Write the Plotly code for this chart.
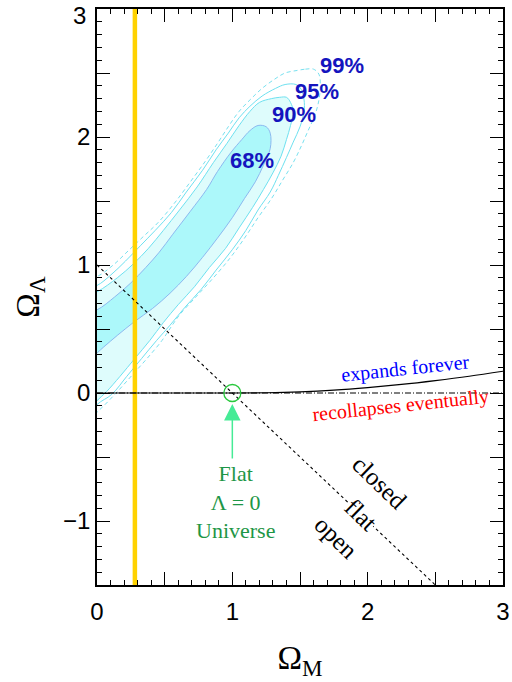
import plotly.graph_objects as go

# Confidence-region outlines in the (Omega_M, Omega_Lambda) plane.
c68_om = [1.19, 1.25, 1.28, 1.28, 1.23, 1.17, 1.09, 1.00, 0.89, 0.78, 0.66, 0.54, 0.41, 0.28,
          0.15, 0.05, -0.05, -0.16, -0.24, -0.16, 0.00, 0.13, 0.25, 0.36, 0.46, 0.56, 0.69,
          0.81, 0.89, 0.99, 1.07, 1.13]
c68_ol = [2.09, 2.08, 2.03, 1.91, 1.78, 1.65, 1.52, 1.37, 1.21, 1.06, 0.91, 0.78, 0.66, 0.56,
          0.45, 0.36, 0.27, 0.22, 0.30, 0.60, 0.65, 0.75, 0.86, 0.98, 1.10, 1.24, 1.42,
          1.59, 1.73, 1.88, 1.98, 2.05]

c90_om = [1.29, 1.35, 1.40, 1.43, 1.45, 1.43, 1.40, 1.36, 1.30, 1.23, 1.15, 1.05, 0.95, 0.83,
          0.72, 0.60, 0.49, 0.39, 0.28, 0.17, 0.07, 0.00, -0.09, -0.20, -0.26, -0.20, 0.00,
          0.15, 0.27, 0.38, 0.49, 0.61, 0.74, 0.86, 0.96, 1.05, 1.13, 1.20]
c90_ol = [2.30, 2.31, 2.31, 2.27, 2.20, 2.09, 1.98, 1.85, 1.72, 1.59, 1.45, 1.29, 1.13, 0.98,
          0.83, 0.69, 0.55, 0.41, 0.27, 0.13, 0.01, -0.06, -0.16, -0.18, 0.10, 0.70, 0.79,
          0.90, 1.01, 1.13, 1.27, 1.43, 1.61, 1.80, 1.95, 2.09, 2.20, 2.27]

c95_om = [1.32, 1.39, 1.47, 1.51, 1.53, 1.53, 1.50, 1.45, 1.40, 1.34, 1.28, 1.19, 1.10, 1.00,
          0.88, 0.77, 0.65, 0.54, 0.44, 0.33, 0.22, 0.11, 0.00, -0.09, -0.24, -0.31, -0.26,
          -0.13, 0.00, 0.10, 0.21, 0.32, 0.43, 0.55, 0.66, 0.78, 0.88, 0.97, 1.05, 1.13, 1.22]
c95_ol = [2.38, 2.41, 2.41, 2.37, 2.29, 2.20, 2.08, 1.96, 1.84, 1.70, 1.57, 1.43, 1.27, 1.12,
          0.96, 0.81, 0.67, 0.53, 0.41, 0.27, 0.13, -0.01, -0.09, -0.21, -0.21, 0.10, 0.70,
          0.80, 0.84, 0.92, 1.03, 1.15, 1.27, 1.41, 1.57, 1.74, 1.90, 2.03, 2.15, 2.24, 2.32]

c99_om = [1.48, 1.54, 1.60, 1.64, 1.65, 1.64, 1.61, 1.56, 1.51, 1.45, 1.37, 1.29, 1.19, 1.09,
          0.98, 0.86, 0.73, 0.61, 0.55, 0.48, 0.37, 0.26, 0.15, 0.05, 0.00, -0.09, -0.24,
          -0.31, -0.27, -0.13, 0.00, 0.12, 0.23, 0.34, 0.45, 0.57, 0.69, 0.80, 0.89, 0.97,
          1.05, 1.14, 1.22, 1.31, 1.39]
c99_ol = [2.52, 2.53, 2.53, 2.49, 2.40, 2.29, 2.17, 2.05, 1.93, 1.80, 1.66, 1.52, 1.37, 1.21,
          1.05, 0.90, 0.75, 0.61, 0.52, 0.41, 0.27, 0.14, 0.01, -0.10, -0.15, -0.25, -0.25,
          0.10, 0.78, 0.88, 0.91, 1.00, 1.11, 1.22, 1.33, 1.48, 1.65, 1.81, 1.95, 2.08,
          2.20, 2.30, 2.38, 2.45, 2.50]

# Boundary between eternal expansion and eventual recollapse.
expand_om = [0.0, 1.0, 1.25, 1.5, 1.75, 2.0, 2.25, 2.5, 2.75, 3.0]
expand_ol = [0.0, 0.0, 0.002, 0.009, 0.022, 0.042, 0.067, 0.097, 0.131, 0.170]

# Flat universe: Omega_M + Omega_Lambda = 1
flat_om = [0.0, 2.5]
flat_ol = [1.0, -1.5]

# Omega_M constraint (vertical marker)
om_marker = 0.28

# Flat, Lambda = 0 universe
flat_l0 = (1.0, 0.0)

pct_labels = ["99%", "95%", "90%", "68%"]
pct_om = [1.814, 1.622, 1.453, 1.143]
pct_ol = [2.555, 2.359, 2.172, 1.820]

x_ticks = [0, 1, 2, 3]
x_text = ["0", "1", "2", "3"]
x_half_ticks = [0.5, 1.5, 2.5]
y_ticks = [-1, 0, 1, 2]
y_text = ["\u22121", "0", "1", "2"]
y_half_ticks = [-0.5, 0.5, 1.5, 2.5]
y_top = 3
y_top_label = "3"   # top label is set just inside the page edge

SERIF = "Liberation Serif, Times New Roman, serif"
SANS = "Liberation Sans, Arial, sans-serif"
TICKFONT = dict(family=SANS, size=24, color="black")


def closed(xs, ys):
    return xs + xs[:1], ys + ys[:1]


fig = go.Figure()

x, y = closed(c90_om, c90_ol)
fig.add_trace(go.Scatter(x=x, y=y, mode="lines", fill="toself",
                         fillcolor="rgb(222,252,252)",
                         line=dict(color="rgb(110,225,240)", width=1, shape="spline")))
x, y = closed(c95_om, c95_ol)
fig.add_trace(go.Scatter(x=x, y=y, mode="lines",
                         line=dict(color="rgb(110,225,240)", width=1, shape="spline")))
x, y = closed(c99_om, c99_ol)
fig.add_trace(go.Scatter(x=x, y=y, mode="lines",
                         line=dict(color="rgb(120,225,240)", width=1, dash="4px,3px",
                                   shape="spline")))
x, y = closed(c68_om, c68_ol)
fig.add_trace(go.Scatter(x=x, y=y, mode="lines", fill="toself",
                         fillcolor="rgb(172,248,250)",
                         line=dict(color="rgb(140,185,240)", width=1, shape="spline")))

# Omega_M marker
fig.add_trace(go.Scatter(x=[om_marker, om_marker], y=[-1.5, 3], mode="lines",
                         line=dict(color="rgb(255,210,0)", width=4.5)))

# Omega_Lambda = 0 reference
fig.add_trace(go.Scatter(x=[0, 3], y=[0, 0], mode="lines",
                         line=dict(color="black", width=1, dash="6px,2px,1px,2px")))
# expansion / recollapse boundary
fig.add_trace(go.Scatter(x=expand_om, y=expand_ol, mode="lines",
                         line=dict(color="black", width=1.2, shape="spline")))
# flat universe line
fig.add_trace(go.Scatter(x=flat_om, y=flat_ol, mode="lines",
                         line=dict(color="black", width=1.1, dash="3px,3px")))
# flat, Lambda = 0 point
fig.add_trace(go.Scatter(x=[flat_l0[0]], y=[flat_l0[1]], mode="markers",
                         marker=dict(symbol="circle-open", size=17, color="rgb(40,200,60)",
                                     line=dict(color="rgb(40,200,60)", width=1.3))))

# invisible trace carrying the half-unit tick axes
fig.add_trace(go.Scatter(x=[0], y=[0], xaxis="x2", yaxis="y2", mode="markers",
                         marker=dict(opacity=0), hoverinfo="skip"))

ann = []
for t, xo, yo in zip(pct_labels, pct_om, pct_ol):
    ann.append(dict(x=xo, y=yo, text=t, showarrow=False,
                    font=dict(family=SANS, size=22, color="rgb(20,20,190)", weight="bold")))

ann.append(dict(x=2.279, y=0.195, text="expands forever", showarrow=False, textangle=-6,
                font=dict(family=SERIF, size=20, color="rgb(0,0,255)")))
ann.append(dict(x=2.242, y=-0.094, text="recollapses eventually", showarrow=False,
                textangle=-6, font=dict(family=SERIF, size=20, color="rgb(255,0,0)")))

ann.append(dict(x=2.087, y=-0.703, text="closed", showarrow=False, textangle=44,
                font=dict(family=SERIF, size=25, color="black")))
ann.append(dict(x=1.947, y=-0.953, text="flat", showarrow=False, textangle=44,
                bgcolor="white", borderpad=0,
                font=dict(family=SERIF, size=25, color="black")))
ann.append(dict(x=1.770, y=-1.125, text="open", showarrow=False, textangle=44,
                font=dict(family=SERIF, size=25, color="black")))

ann.append(dict(x=1.025, y=-0.852, text="Flat<br>\u039b = 0<br>Universe", showarrow=False,
                font=dict(family=SERIF, size=22, color="rgb(30,150,70)")))

ann.append(dict(x=1.0, y=-0.086, ax=0, ay=56, text="", showarrow=True,
                arrowhead=2, arrowsize=2.2, arrowwidth=1.5,
                arrowcolor="rgb(70,235,150)"))

# top y tick label, nudged below the tick so it stays on the page
ann.append(dict(x=-0.022, xref="paper", y=y_top - 0.047, yref="y", xanchor="right",
                yanchor="middle", text=y_top_label, showarrow=False, font=TICKFONT))

fig.update_layout(
    width=512, height=682,
    margin=dict(l=97, r=9, t=9, b=97),
    paper_bgcolor="white", plot_bgcolor="white",
    showlegend=False,
    annotations=ann,
)

common = dict(showgrid=False, zeroline=False, automargin=False,
              ticks="inside", ticklen=13, tickwidth=1, tickcolor="black",
              mirror="allticks", tickfont=TICKFONT)

fig.update_layout(
    xaxis=dict(
        range=[0, 3], showline=True, linecolor="black", linewidth=1.5,
        tickvals=x_ticks, ticktext=x_text, ticklabeloverflow="allow", ticklabelstandoff=4,
        minor=dict(dtick=0.1, ticks="inside", ticklen=5, tickwidth=1, tickcolor="black"),
        title=dict(text="\u03a9<sub>M</sub>",
                   font=dict(family=SERIF, size=33, color="black"), standoff=22),
        **common),
    yaxis=dict(
        range=[-1.5, 3], showline=True, linecolor="black", linewidth=1.5,
        tickvals=y_ticks, ticktext=y_text, ticklabeloverflow="allow",
        minor=dict(dtick=0.1, ticks="inside", ticklen=5, tickwidth=1, tickcolor="black"),
        title=dict(text="\u03a9<sub>\u039b</sub>",
                   font=dict(family=SERIF, size=33, color="black"), standoff=14),
        **common),
    xaxis2=dict(range=[0, 3], overlaying="x", anchor="y", side="bottom",
                showline=False, tickvals=x_half_ticks, showticklabels=False, **common),
    yaxis2=dict(range=[-1.5, 3], overlaying="y", anchor="x", side="left",
                showline=False, tickvals=y_half_ticks, showticklabels=False, **common),
)

fig.write_html("out.html")
